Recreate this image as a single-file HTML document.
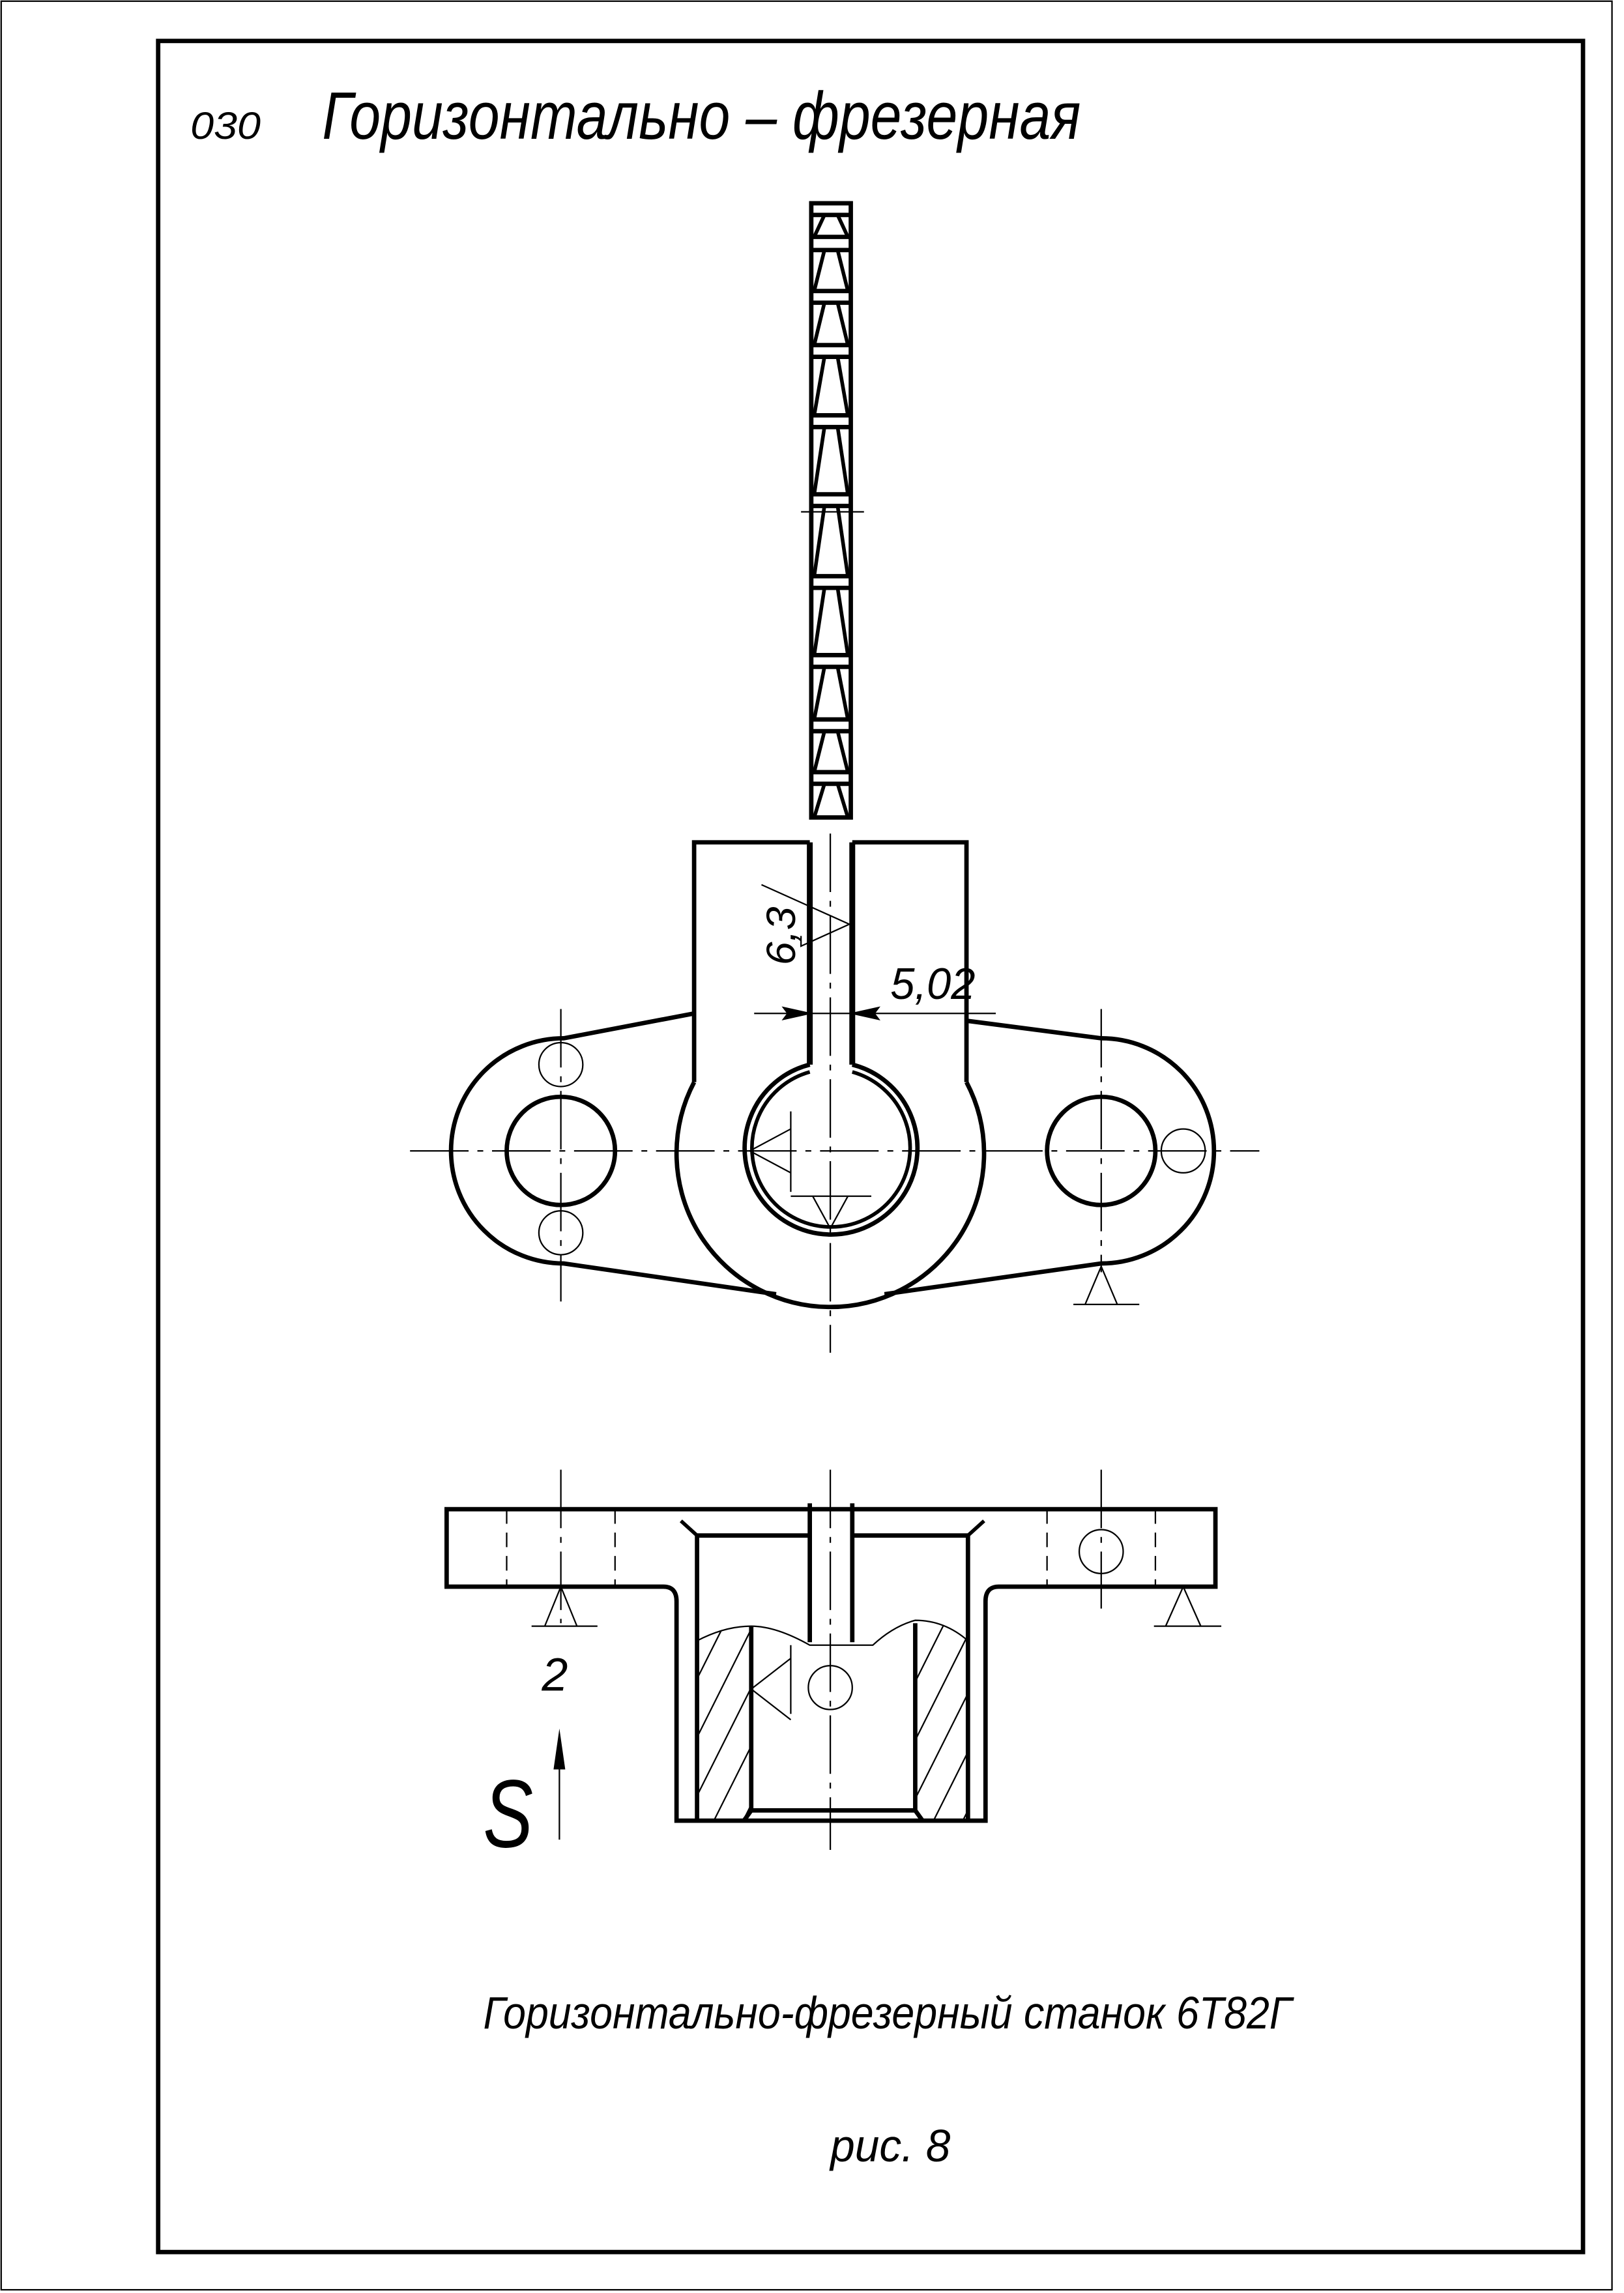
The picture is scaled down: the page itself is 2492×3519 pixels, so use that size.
<!DOCTYPE html>
<html><head><meta charset="utf-8"><style>
html,body{margin:0;padding:0;background:#fff}
svg{display:block}
text{font-family:"Liberation Sans",sans-serif;font-style:italic;fill:#000}
</style></head><body>
<svg width="2492" height="3519" viewBox="0 0 1109 1568" preserveAspectRatio="none" xmlns="http://www.w3.org/2000/svg">
<rect x="0" y="0" width="1109" height="1568" fill="#fff"/>
<rect x="0.8" y="0.8" width="1100" height="1565" fill="none" stroke="#000" stroke-width="1"/>
<rect x="108" y="28" width="973" height="1512" fill="none" stroke="#000" stroke-width="3"/>
<text x="130" y="95" font-size="26" textLength="48" lengthAdjust="spacingAndGlyphs" font-weight="300">030</text>
<text x="220" y="95" font-size="46" textLength="518" lengthAdjust="spacingAndGlyphs">Горизонтально – фрезерная</text>

<!-- cutter -->
<g stroke="#000" fill="none">
<rect x="554" y="139" width="27" height="420" stroke-width="3"/>
<g stroke-width="3">
<line x1="554" y1="147" x2="581" y2="147"/>
<line x1="554" y1="162" x2="581" y2="162"/><line x1="554" y1="171" x2="581" y2="171"/>
<line x1="554" y1="199" x2="581" y2="199"/><line x1="554" y1="207" x2="581" y2="207"/>
<line x1="554" y1="236" x2="581" y2="236"/><line x1="554" y1="244" x2="581" y2="244"/>
<line x1="554" y1="284" x2="581" y2="284"/><line x1="554" y1="292" x2="581" y2="292"/>
<line x1="554" y1="338" x2="581" y2="338"/><line x1="554" y1="346" x2="581" y2="346"/>
<line x1="554" y1="394" x2="581" y2="394"/><line x1="554" y1="402" x2="581" y2="402"/>
<line x1="554" y1="448" x2="581" y2="448"/><line x1="554" y1="456" x2="581" y2="456"/>
<line x1="554" y1="492" x2="581" y2="492"/><line x1="554" y1="500" x2="581" y2="500"/>
<line x1="554" y1="528" x2="581" y2="528"/><line x1="554" y1="536" x2="581" y2="536"/>
</g>
<g stroke-width="2.5">
<path d="M563 147 L556 162 M572 147 L579 162"/>
<path d="M563 171 L556 199 M572 171 L579 199"/>
<path d="M563 207 L556 236 M572 207 L579 236"/>
<path d="M563 244 L556 284 M572 244 L579 284"/>
<path d="M563 292 L556 338 M572 292 L579 338"/>
<path d="M563 346 L556 394 M572 346 L579 394"/>
<path d="M563 402 L556 448 M572 402 L579 448"/>
<path d="M563 456 L556 492 M572 456 L579 492"/>
<path d="M563 500 L556 528 M572 500 L579 528"/>
<path d="M563 536 L556 559 M572 536 L579 559"/>
</g>
<line x1="547" y1="350" x2="590" y2="350" stroke-width="1"/>
</g>

<!-- top view -->
<g stroke="#000" fill="none">
<g stroke-width="1" stroke-dasharray="40,6,4,6">
<line x1="280" y1="787" x2="860" y2="787"/>
<line x1="567" y1="570" x2="567" y2="925"/>
<line x1="383" y1="690" x2="383" y2="890"/>
<line x1="752" y1="690" x2="752" y2="870"/>
</g>
<g stroke-width="3">
<path d="M553 576 L474 576 L474 740"/>
<path d="M582 576 L660 576 L660 740"/>
<path d="M474 740 A105 105 0 1 0 660 740"/>
<path d="M474 693 L385 710 A77 77 0 0 0 385 864 L530 885"/>
<path d="M604 885 L752 864 A77 77 0 0 0 752 710 L660 698"/>
<circle cx="383" cy="787" r="37"/>
<circle cx="752" cy="787" r="37"/>
<line x1="553" y1="576" x2="553" y2="728" stroke-width="4"/>
<line x1="582" y1="576" x2="582" y2="728" stroke-width="4"/>
<path d="M553 728 A59 59 0 1 0 582 728"/>
<path d="M553 733 A54 54 0 1 0 582 733" stroke-width="2.5"/>
</g>
<g stroke-width="1">
<circle cx="383" cy="728" r="15"/><circle cx="383" cy="843" r="15"/>
<circle cx="808" cy="787" r="15"/>
<path d="M540 760 L540 815 M540 772 L512 787 L540 802"/>
<path d="M540 818 L595 818 M555 818 L567 840 L579 818"/>
<path d="M752 866 L741 892 M752 866 L763 892 M733 892 L778 892"/>
<path d="M520 605 L580 632 L547 647 L547 640"/>
<path d="M515 693 L680 693 M660 690 L660 700"/>
</g>
<path d="M553 693 L535 689 L538 693 L535 697 Z M582 693 L600 689 L597 693 L600 697 Z" fill="#000" stroke="#000" stroke-width="1"/>
</g>
<text x="0" y="0" font-size="28" transform="translate(543,660) rotate(-90)" textLength="40" lengthAdjust="spacingAndGlyphs" font-weight="300">6,3</text>
<text x="608" y="683" font-size="30" textLength="58" lengthAdjust="spacingAndGlyphs" font-weight="300">5,02</text>

<!-- bottom view -->
<g stroke="#000" fill="none">
<g stroke-width="1" stroke-dasharray="40,6,4,6">
<line x1="383" y1="1005" x2="383" y2="1110"/>
<line x1="752" y1="1005" x2="752" y2="1100"/>
<line x1="567" y1="1005" x2="567" y2="1265"/>
</g>
<g stroke-width="1">
<line x1="346" y1="1032" x2="346" y2="1085" stroke-dasharray="10,6"/>
<line x1="420" y1="1032" x2="420" y2="1085" stroke-dasharray="10,6"/>
<line x1="715" y1="1032" x2="715" y2="1085" stroke-dasharray="10,6"/>
<line x1="789" y1="1032" x2="789" y2="1085" stroke-dasharray="10,6"/>
<circle cx="752" cy="1061" r="15"/>
<circle cx="567" cy="1154" r="15"/>
<path d="M383 1085 L372 1112 M383 1085 L394 1112 M363 1112 L408 1112"/>
<path d="M808 1085 L796 1112 M808 1085 L820 1112 M788 1112 L834 1112"/>
<path d="M540 1125 L540 1172 M540 1134 L513 1155 L540 1176"/>
<path d="M476 1122 Q495 1112 513 1112 Q530 1112 553 1125 L582 1125 L596 1125 Q610 1112 625 1108 Q645 1108 661 1122"/>
<clipPath id="h1"><path d="M477 1122 Q495 1112 513 1112 L513 1244 L477 1244 Z"/></clipPath>
<clipPath id="h2"><path d="M625 1108 Q645 1108 661 1122 L661 1244 L625 1244 Z"/></clipPath>
<g clip-path="url(#h1)">
<path d="M470 1160 L520 1060 M470 1200 L530 1080 M470 1240 L540 1100 M480 1260 L550 1120 M500 1260 L560 1140"/>
</g>
<g clip-path="url(#h2)">
<path d="M620 1160 L670 1060 M620 1200 L680 1080 M620 1240 L690 1100 M630 1260 L700 1120 M650 1260 L710 1140"/>
</g>
</g>
<g stroke-width="3">
<path d="M305 1032 L830 1032 L830 1085 L682 1085 Q673 1085 673 1095 L673 1245 L462 1245 L462 1095 Q462 1085 453 1085 L305 1085 Z"/>
<path d="M553 1050 L476 1050 L476 1245 M582 1050 L661 1050 L661 1245"/>
<path d="M476 1050 L465 1040 M661 1050 L672 1040" stroke-width="2.5"/>
<line x1="553" y1="1028" x2="553" y2="1123"/>
<line x1="582" y1="1028" x2="582" y2="1123"/>
<line x1="513" y1="1112" x2="513" y2="1238"/>
<line x1="625" y1="1110" x2="625" y2="1238"/>
<path d="M513 1238 L508 1245 M625 1238 L630 1245"/>
<line x1="513" y1="1238" x2="625" y2="1238"/>
</g>
<line x1="382" y1="1258" x2="382" y2="1190" stroke-width="1"/>
<path d="M382 1182 L378 1210 L386 1210 Z" fill="#000" stroke="none"/>
</g>
<text x="370" y="1156" font-size="32" font-weight="300">2</text>
<text x="330" y="1263" font-size="66" textLength="34" lengthAdjust="spacingAndGlyphs" font-weight="300">S</text>

<text x="330" y="1387" font-size="31" textLength="552" lengthAdjust="spacingAndGlyphs" font-weight="300">Горизонтально-фрезерный станок 6Т82Г</text>
<text x="567" y="1478" font-size="31" textLength="82" lengthAdjust="spacingAndGlyphs" font-weight="300">рис. 8</text>
</svg>
</body></html>
